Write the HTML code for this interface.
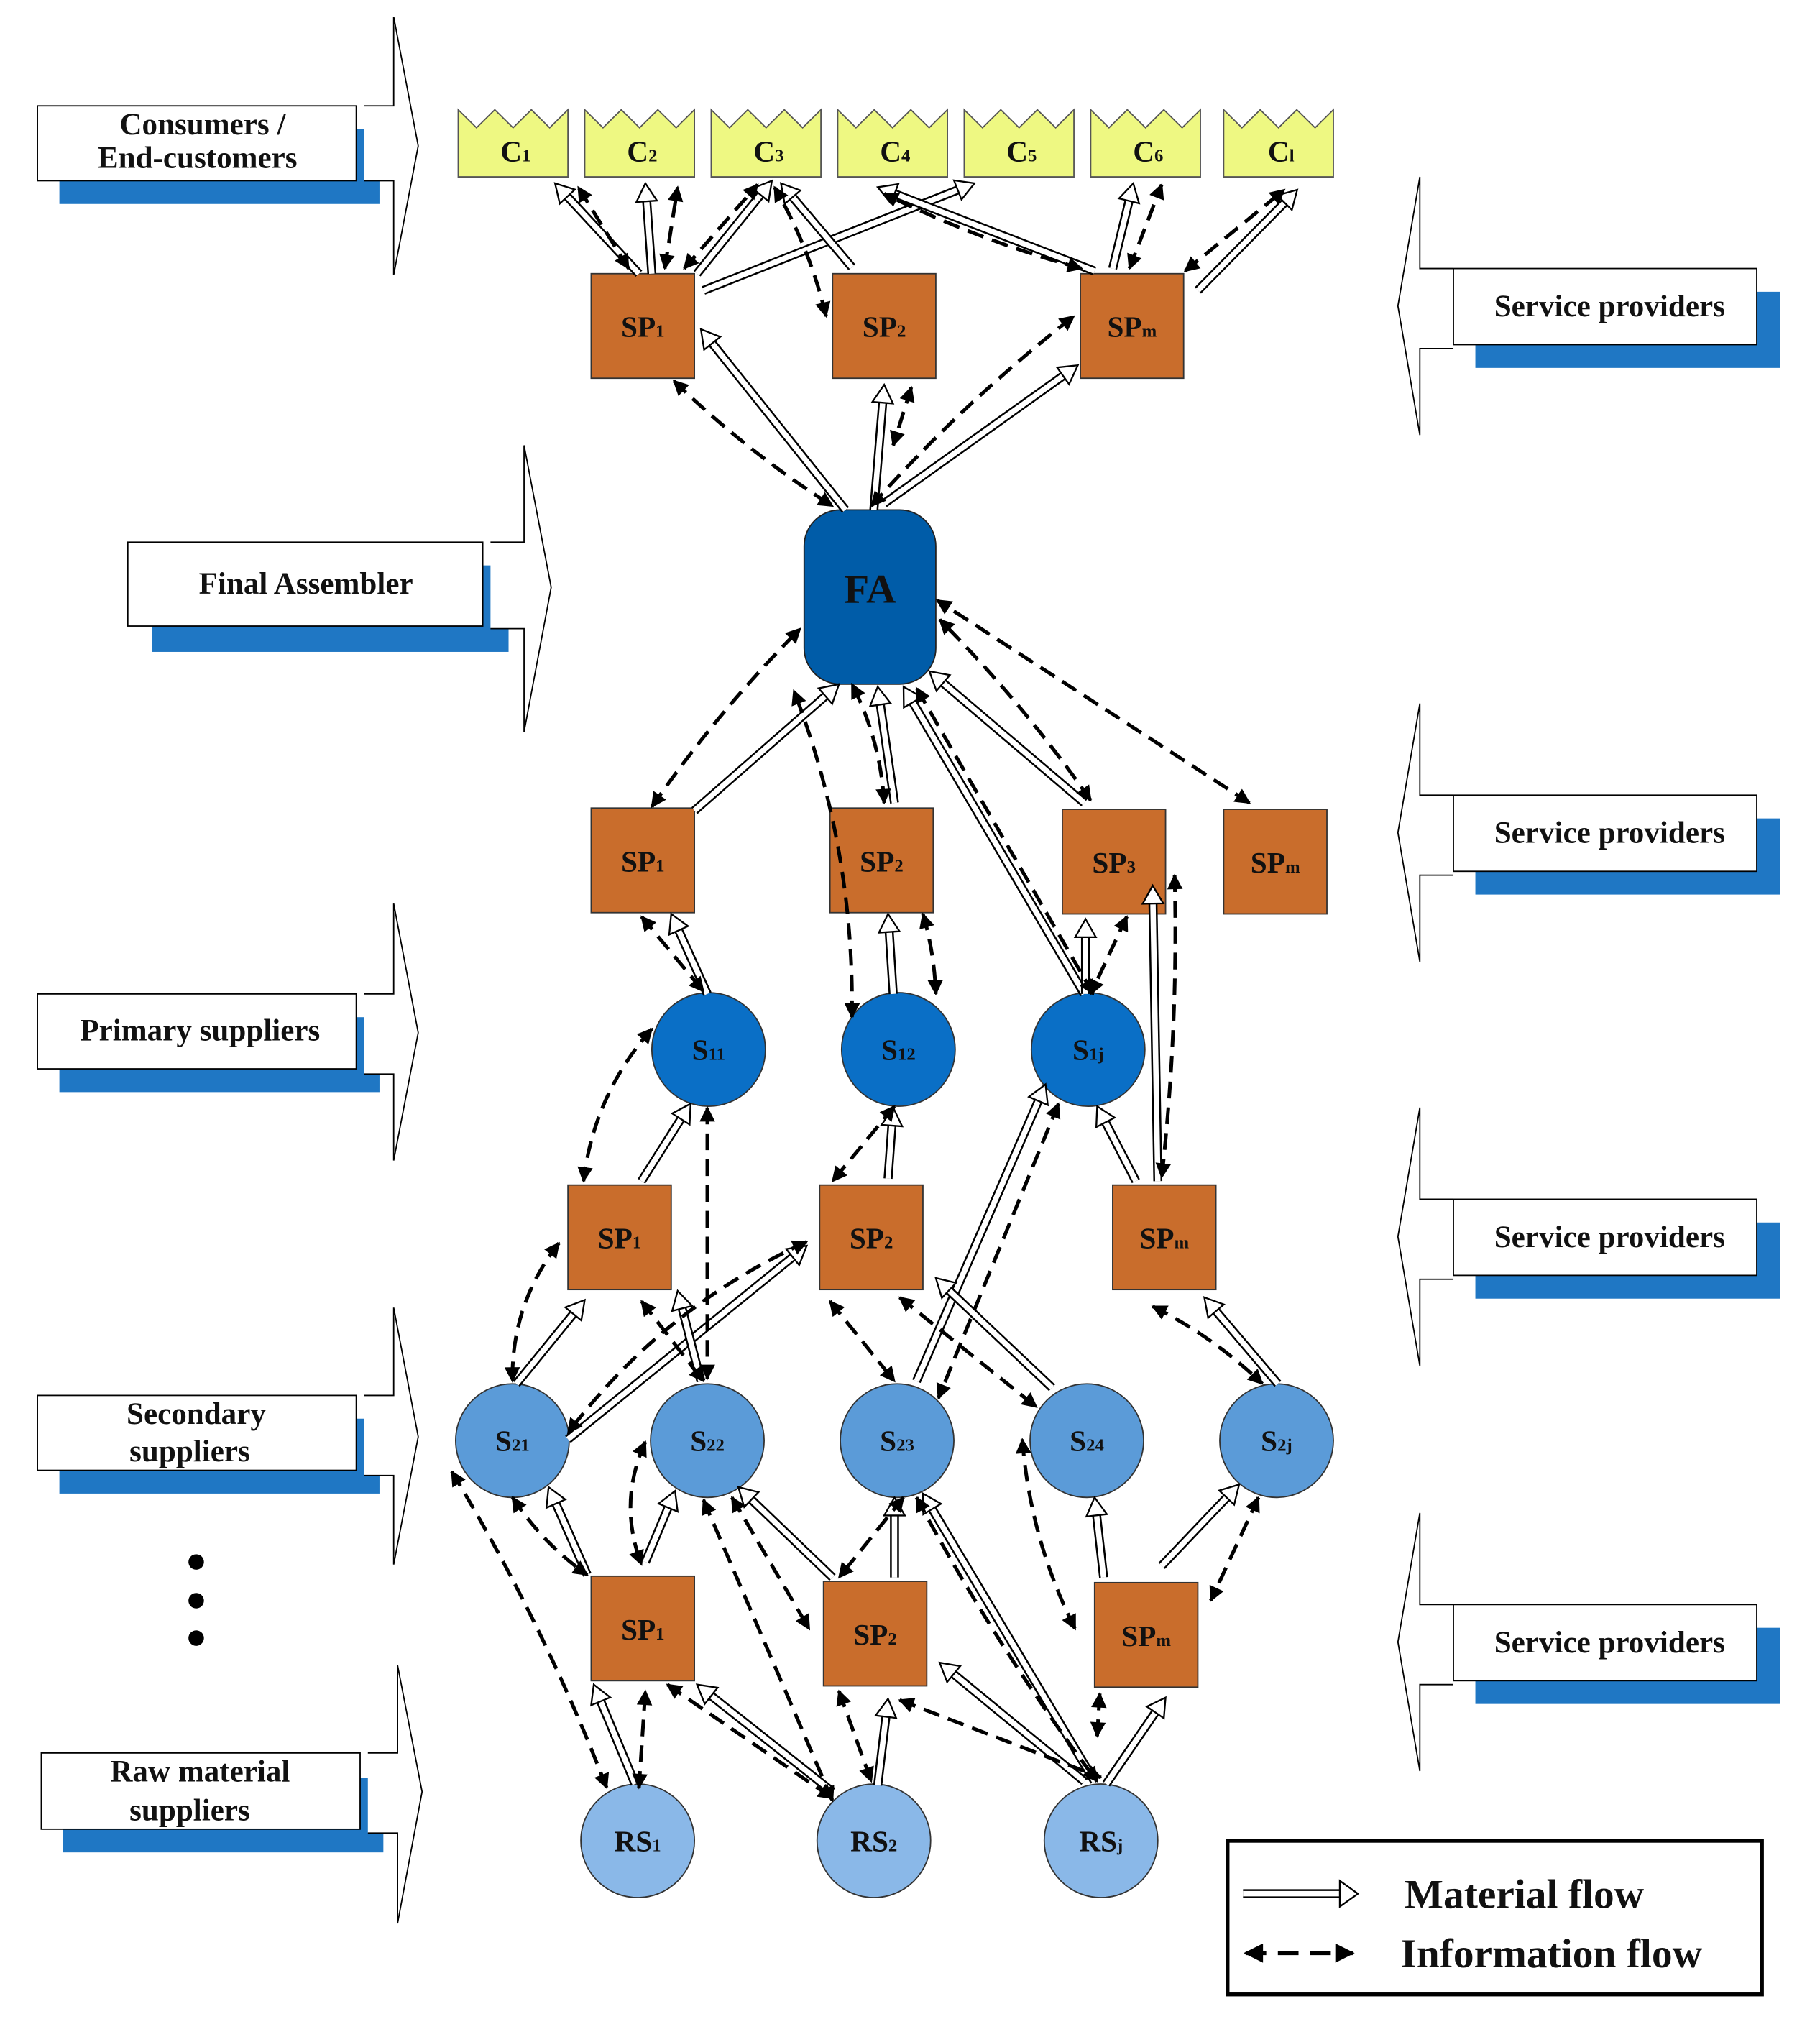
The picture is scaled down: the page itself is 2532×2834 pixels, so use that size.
<!DOCTYPE html>
<html><head><meta charset="utf-8"><style>
html,body{margin:0;padding:0;background:#fff}
svg{display:block}
text{font-family:"Liberation Serif",serif;font-weight:bold;fill:#111}
</style></head><body>
<svg id="s" width="2532" height="2834" viewBox="0 0 1410 1578" preserveAspectRatio="none" xmlns="http://www.w3.org/2000/svg">
<defs>
<marker id="ah" viewBox="0 0 10 10" refX="9" refY="5" markerWidth="15" markerHeight="12" markerUnits="userSpaceOnUse" orient="auto-start-reverse">
<path d="M0,0 L10,5 L0,10 Z" fill="#000"/></marker>
<marker id="ah2" viewBox="0 0 10 10" refX="9" refY="5" markerWidth="20" markerHeight="15" markerUnits="userSpaceOnUse" orient="auto-start-reverse">
<path d="M0,0 L10,5 L0,10 Z" fill="#000"/></marker>
</defs>
<g id="tiers" stroke="#000" stroke-width="1">
<rect x="46" y="100" width="248" height="58" fill="#1f77c4" stroke="none"/>
<rect x="29" y="82" width="247" height="58" fill="#fff"/>
<path d="M282,82 L305,82 L305,13 L324,113 L305,213 L305,140 L282,140" fill="#fff"/>
<rect x="118" y="438" width="276" height="67" fill="#1f77c4" stroke="none"/>
<rect x="99" y="420" width="275" height="65" fill="#fff"/>
<path d="M380,420 L406,420 L406,345 L427,455 L406,567 L406,487 L380,487" fill="#fff"/>
<rect x="46" y="788" width="248" height="58" fill="#1f77c4" stroke="none"/>
<rect x="29" y="770" width="247" height="58" fill="#fff"/>
<path d="M282,770 L305,770 L305,700 L324,800 L305,899 L305,832 L282,832" fill="#fff"/>
<rect x="46" y="1099" width="248" height="58" fill="#1f77c4" stroke="none"/>
<rect x="29" y="1081" width="247" height="58" fill="#fff"/>
<path d="M282,1081 L305,1081 L305,1013 L324,1113 L305,1212 L305,1143 L282,1143" fill="#fff"/>
<rect x="49" y="1377" width="248" height="58" fill="#1f77c4" stroke="none"/>
<rect x="32" y="1358" width="247" height="59" fill="#fff"/>
<path d="M285,1358 L308,1358 L308,1290 L327,1388 L308,1490 L308,1420 L285,1420" fill="#fff"/>
<g id="spr"></g>
</g>
<g id="nodes"></g>
<g id="arrows"></g>
<g id="labels"></g>
<circle cx="152" cy="1210" r="6" fill="#000"/>
<circle cx="152" cy="1240" r="6" fill="#000"/>
<circle cx="152" cy="1269" r="6" fill="#000"/>
<rect x="951" y="1426" width="414" height="119" fill="#fff" stroke="#000" stroke-width="3"/>
<g id="legend"></g>
<text x="1088" y="1478" font-size="32">Material flow</text>
<text x="1085" y="1524" font-size="32">Information flow</text>
<text x="157" y="104" font-size="24" text-anchor="middle">Consumers /</text>
<text x="153" y="130" font-size="24" text-anchor="middle">End-customers</text>
<text x="237" y="460" font-size="24" text-anchor="middle">Final Assembler</text>
<text x="155" y="806" font-size="24" text-anchor="middle">Primary suppliers</text>
<text x="152" y="1103" font-size="24" text-anchor="middle">Secondary</text>
<text x="147" y="1132" font-size="24" text-anchor="middle">suppliers</text>
<text x="155" y="1380" font-size="24" text-anchor="middle">Raw material</text>
<text x="147" y="1410" font-size="24" text-anchor="middle">suppliers</text>
</svg>
<script>
const NS="http://www.w3.org/2000/svg";
function el(p,t,a,txt){const e=document.createElementNS(NS,t);for(const k in a)e.setAttribute(k,a[k]);if(txt!==undefined)e.textContent=txt;p.appendChild(e);return e;}
const spr=document.getElementById('spr');
[[208,137,337,237],[616,545,745,645],[929,858,1058,958],[1243,1172,1372,1272]].forEach(([y,t,b,tip])=>{
 el(spr,'rect',{x:1143,y:y+18,width:236,height:59,fill:'#1f77c4',stroke:'none'});
 el(spr,'path',{d:`M1126,${y} L1100,${y} L1100,${t} L1083,${tip} L1100,${b} L1100,${y+62} L1126,${y+62}`,fill:'#fff'});
 el(spr,'rect',{x:1126,y:y,width:235,height:59,fill:'#fff'});
 el(document.getElementById('labels'),'text',{x:1247,y:y+37,'font-size':24,'text-anchor':'middle'},'Service providers');
});
const N=document.getElementById('nodes'),L=document.getElementById('labels');
function lab(x,y,main,sub,fs){const t=el(L,'text',{x:x,y:y,'font-size':fs||23,'text-anchor':'middle'});el(t,'tspan',{},main);el(t,'tspan',{'font-size':(fs||23)*0.6},sub);}
[[355,'1'],[453,'2'],[551,'3'],[649,'4'],[747,'5'],[845,'6'],[948,'l']].forEach(([x,s])=>{
 const w=85,y=85,h=52;let d=`M${x},${y+h} L${x},${y}`;
 for(let i=0;i<3;i++){const a=x+i*w/3;d+=` L${a+w/6},${y+14} L${a+w/3},${y}`;}
 d+=` L${x+w},${y+h} Z`;el(N,'path',{d:d,fill:'#eef882',stroke:'#555','stroke-width':1});
 lab(x+w/2+2,y+40,'C',s);
});
function sp(x,y,s,w,h){el(N,'rect',{x:x,y:y,width:w||80,height:h||81,fill:'#c96d2c',stroke:'#333','stroke-width':1});lab(x+(w||80)/2,y+49,'SP',s);}
sp(458,212,'1');sp(645,212,'2');sp(837,212,'m');
sp(458,626,'1');sp(643,626,'2');sp(823,627,'3');sp(948,627,'m');
sp(440,918,'1');sp(635,918,'2');sp(862,918,'m');
sp(458,1221,'1');sp(638,1225,'2');sp(848,1226,'m');
el(N,'rect',{x:623,y:395,width:102,height:135,rx:28,fill:'#005ca8',stroke:'#222','stroke-width':1});
el(L,'text',{x:674,y:467,'font-size':32,'text-anchor':'middle'},'FA');
function circ(cx,cy,c,m,s){el(N,'circle',{cx:cx,cy:cy,r:44,fill:c,stroke:'#333','stroke-width':1});lab(cx,cy+8,m,s);}
circ(549,813,'#0a6fc6','S','11');circ(696,813,'#0a6fc6','S','12');circ(843,813,'#0a6fc6','S','1j');
[[397,'21'],[548,'22'],[695,'23'],[842,'24'],[989,'2j']].forEach(([x,s])=>circ(x,1116,'#5b9bd8','S',s));
circ(494,1426,'#8ab8e8','RS','1');circ(677,1426,'#8ab8e8','RS','2');circ(853,1426,'#8ab8e8','RS','j');
const A=document.getElementById('arrows');
function mat(x1,y1,x2,y2,hl,hw,P){P=P||A;hl=hl||14;hw=hw||8;const dx=x2-x1,dy=y2-y1,len=Math.hypot(dx,dy),ux=dx/len,uy=dy/len;
 const bx=x2-ux*hl,by=y2-uy*hl;
 el(P,'line',{x1:x1,y1:y1,x2:bx,y2:by,stroke:'#000','stroke-width':7});
 el(P,'line',{x1:x1,y1:y1,x2:bx+ux*1,y2:by+uy*1,stroke:'#fff','stroke-width':4.2});
 const px=-uy,py=ux;
 el(P,'polygon',{points:`${x2},${y2} ${bx+px*hw},${by+py*hw} ${bx-px*hw},${by-py*hw}`,fill:'#fff',stroke:'#000','stroke-width':1.3});}
function inf(x1,y1,x2,y2,c,m,P){P=P||A;let d;if(c){const mx=(x1+x2)/2,my=(y1+y2)/2,dx=x2-x1,dy=y2-y1,l=Math.hypot(dx,dy);d=`M${x1},${y1} Q${mx-dy/l*c},${my+dx/l*c} ${x2},${y2}`;}else d=`M${x1},${y1} L${x2},${y2}`;
 el(P,'path',{d:d,fill:'none',stroke:'#000','stroke-width':m?3.2:2.8,'stroke-dasharray':m?'16 9':'13 7','marker-start':m?'url(#ah2)':'url(#ah)','marker-end':m?'url(#ah2)':'url(#ah)'});}
[[495,212,430,142],[505,212,500,142],[540,212,598,140],[545,225,755,142],[660,207,605,142],[848,210,680,145],[862,208,878,142],[928,225,1005,147],
[655,395,543,255],[677,395,685,298],[685,390,835,283],
[538,628,650,530],[693,622,680,532],[840,622,720,520],[840,770,700,532],
[548,770,520,708],[692,770,688,708],[841,770,841,712],[897,915,893,686],
[497,915,535,855],[688,913,692,858],[880,915,850,857],
[400,1072,453,1007],[440,1115,625,965],[543,1070,525,1000],[710,1070,810,840],[815,1075,725,990],[990,1072,933,1005],
[455,1220,425,1152],[500,1210,523,1155],[645,1222,572,1152],[693,1222,693,1160],[855,1222,848,1160],[900,1213,960,1150],
[492,1382,460,1305],[645,1388,540,1305],[680,1383,688,1316],[848,1380,715,1157],[840,1380,728,1288],[857,1382,903,1315]
].forEach(a=>mat(...a));
[[487,208,448,145],[515,208,525,145],[530,208,587,143],[640,245,600,145,8],[838,208,685,150,-8],[875,208,900,143],[918,210,995,147],
[522,295,645,392,8],[706,300,692,345],[675,392,832,245,-10],
[505,625,620,487,-8],[685,622,660,530,10],[845,620,728,480,8],[968,622,726,465],[660,788,615,535,25],[847,770,710,533],
[497,710,545,768],[715,708,725,770,-4],[873,710,845,770],[910,678,900,912,-8],
[505,797,452,915,20],[548,858,548,1068],[693,857,645,915],[820,855,727,1083],
[433,963,397,1070,20],[625,962,440,1110,30],[497,1008,545,1070],[643,1008,693,1070],[697,1005,803,1090],[893,1012,978,1072,-8],
[397,1160,455,1220,8],[500,1117,497,1212,20],[567,1160,627,1262],[700,1160,650,1222],[792,1115,833,1262,15],[975,1160,938,1240],
[350,1140,470,1385,-12],[495,1385,500,1310],[545,1162,645,1395],[517,1305,645,1393],[650,1310,675,1380],[697,1317,853,1377],[710,1160,850,1380,10],[852,1312,850,1345]
].forEach(a=>inf(a[0],a[1],a[2],a[3],a[4]||0));
const G=document.getElementById('legend');
mat(963,1467,1052,1467,14,10,G);
inf(965,1513,1048,1513,0,true,G);
</script>
</body></html>
